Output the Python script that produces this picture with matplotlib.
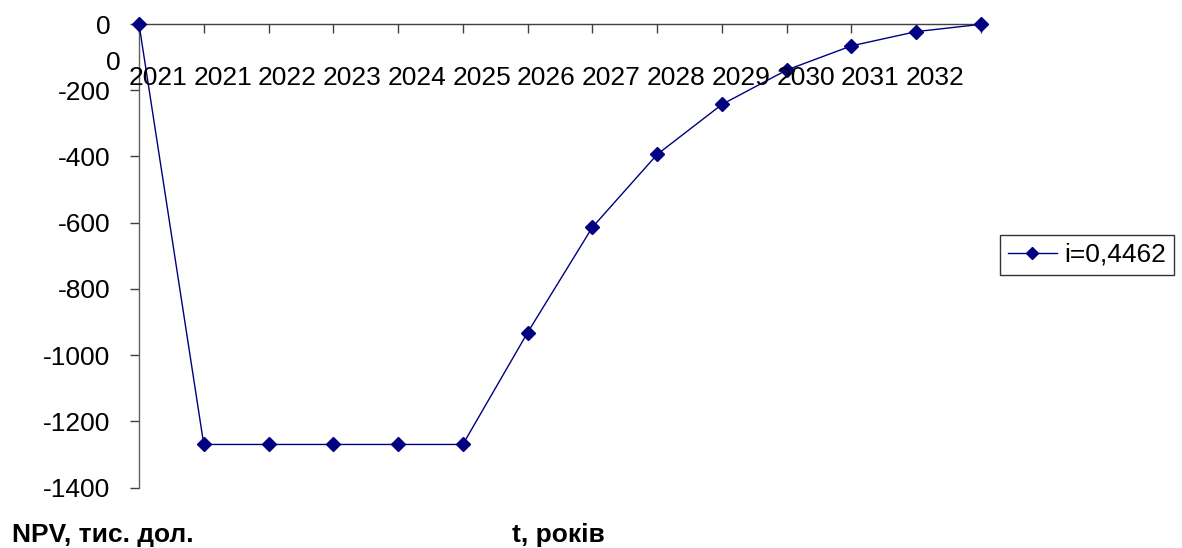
import matplotlib.pyplot as plt

plt.rcParams['font.family'] = ['Liberation Sans', 'DejaVu Sans']

# NPV by period, thousand dollars
x_labels = ['0', '2021', '2021', '2022', '2023', '2024', '2025', '2026',
            '2027', '2028', '2029', '2030', '2031', '2032']
npv = [0, -1270, -1270, -1270, -1270, -1270, -932, -614, -394, -243, -139, -66, -23, -1]
y_ticks = [0, -200, -400, -600, -800, -1000, -1200, -1400]
series_label = 'i=0,4462'

fig = plt.figure(figsize=(11.82, 5.48), dpi=100)
ax = fig.add_axes([139 / 1182, 1 - 487.5 / 548, (981 - 139) / 1182, (487.5 - 24) / 548])

positions = list(range(len(npv)))
ax.plot(positions, npv, color='#000080', linewidth=1, marker='D', markersize=7,
        markerfacecolor='#000080', markeredgecolor='#000080', label=series_label,
        clip_on=False, zorder=3)

ax.set_xlim(0, len(npv) - 1)
ax.set_ylim(-1400, 0)

# category axis sits on the zero line at the top, labels drawn below it
for s in ['bottom', 'right']:
    ax.spines[s].set_visible(False)
ax.spines['top'].set_color('#404040')
ax.spines['left'].set_color('#606060')
ax.spines['top'].set_linewidth(1)
ax.spines['left'].set_linewidth(1)

ax.xaxis.tick_top()
ax.set_xticks(positions)
ax.set_xticklabels([])
ax.tick_params(axis='x', direction='in', length=6.5, width=1, color='#404040')

ax.set_yticks(y_ticks)
ax.set_yticklabels([str(v) for v in y_ticks], fontsize=19)
ax.tick_params(axis='y', direction='out', length=6.5, width=1, color='#404040', pad=14)

# category labels, shifted to the right of each tick
for k, lab in enumerate(x_labels):
    if k == 0:
        ax.text(-0.4, -118, lab, ha='center', va='center', fontsize=19)
    else:
        ax.text(k - 1 + 0.29, -163, lab, ha='center', va='center', fontsize=19)

fig.text(12 / 1182, 1 - 535 / 548, 'NPV, тис. дол.', fontsize=19, fontweight='bold',
         ha='left', va='center')
fig.text(512 / 1182, 1 - 535 / 548, 't, років', fontsize=19, fontweight='bold',
         ha='left', va='center')

leg = fig.legend(loc='upper left', bbox_to_anchor=(1000 / 1182, 1 - 235 / 548),
                 fontsize=19, frameon=True, fancybox=False, shadow=False,
                 borderaxespad=0, borderpad=0.3, handlelength=1.85, handletextpad=0.3)
leg.get_frame().set_edgecolor('black')
leg.get_frame().set_linewidth(1)
for h in leg.legend_handles:
    h.set_markersize(6)

fig.savefig('out.png', dpi=100)
